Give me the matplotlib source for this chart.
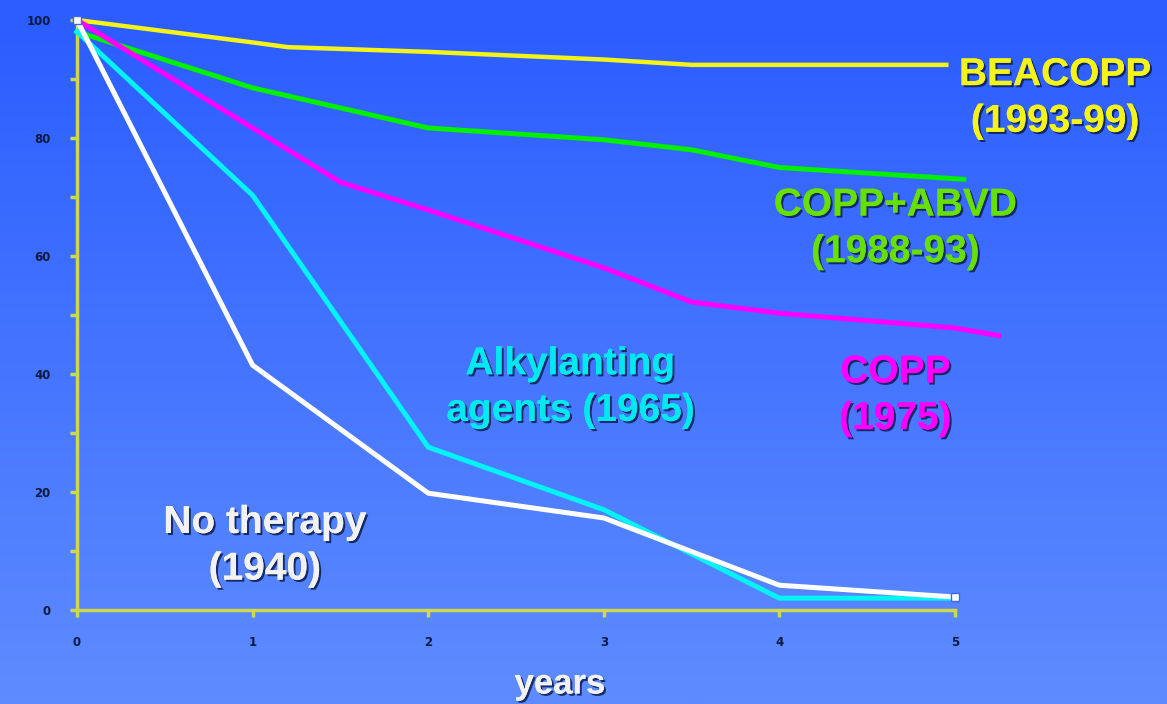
import numpy as np
import matplotlib
matplotlib.use("Agg")
import matplotlib.pyplot as plt
import matplotlib.patheffects as pe

# survival curves (years, percent)
beacopp_x = [0, 1, 1.2, 2, 3, 3.5, 4.95]
beacopp_y = [100, 96.2, 95.4, 94.6, 93.3, 92.4, 92.4]
coppabvd_x = [0, 1, 2, 3, 3.5, 4, 5.05]
coppabvd_y = [98, 88.5, 81.7, 79.7, 78, 75, 73]
copp_x = [0, 1, 1.5, 2, 3, 3.5, 4, 5, 5.25]
copp_y = [100, 81.7, 72.5, 67.8, 58, 52.2, 50.3, 47.8, 46.5]
alky_x = [0, 1, 2, 3, 4, 5]
alky_y = [98, 70.3, 27.6, 17, 2, 2]
nother_x = [0, 1, 2, 3, 4, 5]
nother_y = [100, 41.5, 19.8, 15.6, 4.2, 2.2]

yticks_major = [0, 20, 40, 60, 80, 100]
yticks_minor = [10, 30, 50, 70, 90]
xticks = [0, 1, 2, 3, 4, 5]

fig = plt.figure(figsize=(11.67, 7.04), dpi=100)

# blue gradient background
bg = fig.add_axes([0, 0, 1, 1])
grad = np.linspace(0, 1, 256).reshape(-1, 1)
cmap = matplotlib.colors.LinearSegmentedColormap.from_list("bg", ["#2a5cff", "#5e8cff"])
bg.imshow(grad, aspect="auto", cmap=cmap, extent=[0, 1, 1, 0])
bg.axis("off")

ax = fig.add_axes([77 / 1167, 94 / 704, 1090 / 1167, 590 / 704])
ax.patch.set_alpha(0)
ax.set_xlim(0, 1090 / 175.6)
ax.set_ylim(0, 100)

lw = 3.6
ax.plot(beacopp_x, beacopp_y, color="#f4f41a", lw=3.2, clip_on=False, zorder=3)
ax.plot(coppabvd_x, coppabvd_y, color="#00f000", lw=lw, clip_on=False, zorder=3)
ax.plot(copp_x, copp_y, color="#ff00ff", lw=lw, clip_on=False, zorder=3)
ax.plot(alky_x, alky_y, color="#00f4f4", lw=lw, clip_on=False, zorder=3)
ax.plot(nother_x, nother_y, color="white", lw=lw, clip_on=False, zorder=4,
        marker="s", markevery=[0, -1], markersize=6,
        markerfacecolor="white", markeredgecolor="#3a66ff")

spine_col = "#cdd84a"
for s in ["top", "right"]:
    ax.spines[s].set_visible(False)
ax.spines["left"].set_color(spine_col)
ax.spines["bottom"].set_color(spine_col)
ax.spines["left"].set_linewidth(2.5)
ax.spines["bottom"].set_linewidth(2.5)
ax.spines["bottom"].set_bounds(0, 5)

ax.set_xticks(xticks)
ax.set_yticks(yticks_major)
ax.set_yticks(yticks_minor, minor=True)
ax.tick_params(axis="both", which="both", color=spine_col, width=2.5, length=5,
               labelsize=8.5, labelcolor="#0c1a44", pad=14)
ax.tick_params(axis="x", pad=14)
for t in ax.get_xticklabels() + ax.get_yticklabels():
    t.set_fontweight("bold")

shadow = [pe.withSimplePatchShadow(offset=(1.5, -1.5), shadow_rgbFace="#0c1c50", alpha=0.85), pe.Normal()]
font = dict(family=["Liberation Sans", "DejaVu Sans"], fontsize=28, fontweight="bold",
            ha="center", va="center", linespacing=1.38, path_effects=shadow)

ax.text(5.57, 86.7, "BEACOPP\n(1993-99)", color="#f4f41a", clip_on=False, **font)
ax.text(4.66, 64.6, "COPP+ABVD\n(1988-93)", color="#66e000", clip_on=False, **font)
ax.text(4.66, 36.3, "COPP\n(1975)", color="#ff00ff", clip_on=False, **font)
ax.text(2.81, 37.7, "Alkylanting\nagents (1965)", color="#00e8f0", clip_on=False, **font)
ax.text(1.07, 10.8, "No therapy\n(1940)", color="#f2f2f2", clip_on=False, **font)

years_font = dict(font, fontsize=25)
fig.text(560 / 1167, 1 - 684 / 704, "years", color="#f2f2f2", **years_font)

fig.savefig("out.png", dpi=100)
